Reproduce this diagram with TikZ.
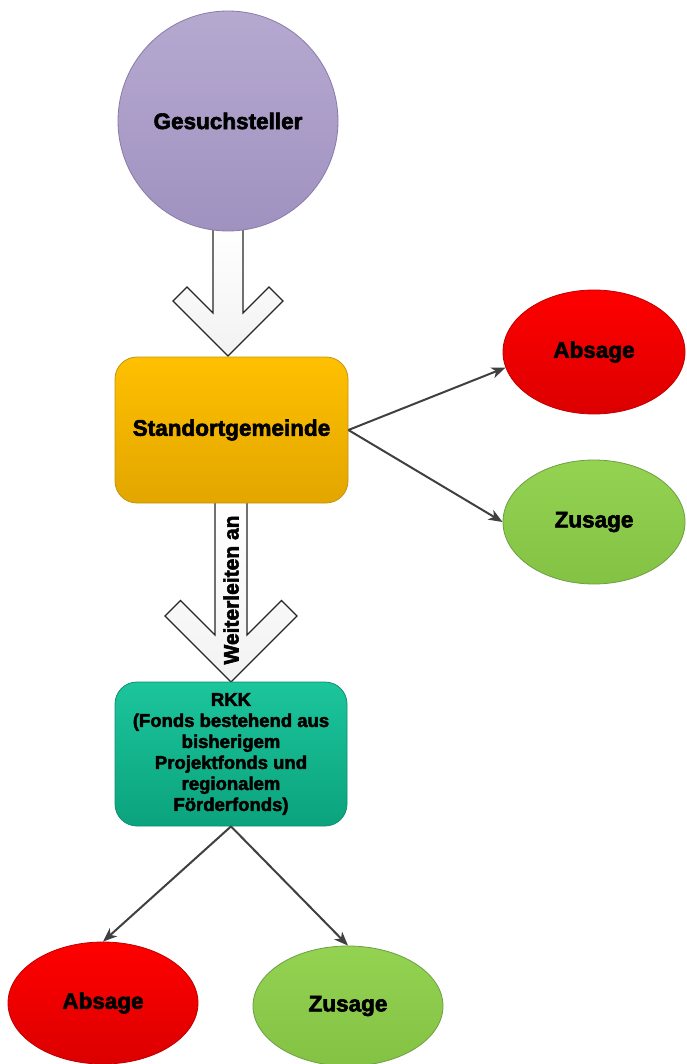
\documentclass[tikz,border=0pt]{standalone}
\usepackage{fontspec}
\newfontfamily\blk{Liberation Sans}[BoldFeatures={FakeBold=2.6}]
\usetikzlibrary{shapes.geometric,arrows.meta}
\definecolor{purpT}{HTML}{B6A9D0}
\definecolor{purpB}{HTML}{A092C0}
\definecolor{purpD}{HTML}{8A7BA8}
\definecolor{oraT}{HTML}{FFC000}
\definecolor{oraB}{HTML}{E2A600}
\definecolor{oraD}{HTML}{C49410}
\definecolor{tealT}{HTML}{1CC59C}
\definecolor{tealB}{HTML}{0BA37D}
\definecolor{tealD}{HTML}{0C8F6E}
\definecolor{redT}{HTML}{FF0000}
\definecolor{redB}{HTML}{DC0000}
\definecolor{redD}{HTML}{C00000}
\definecolor{grnT}{HTML}{94D252}
\definecolor{grnB}{HTML}{84C244}
\definecolor{grnD}{HTML}{6E9E44}
\definecolor{conn}{HTML}{404040}
\begin{document}
\begin{tikzpicture}[x=1pt,y=-1pt,
  lbl/.style={font=\blk\bfseries\fontsize{22.5}{26}\selectfont, text=black, align=center},
  small/.style={font=\blk\bfseries\fontsize{18.5}{21}\selectfont, text=black, align=center},
  boxshape/.style={rectangle, rounded corners=22pt, inner sep=0pt, line width=0.8pt},
  ell/.style={ellipse, inner sep=0pt, line width=0.8pt},
  bigarrow/.style={draw=black!85, line width=1.1pt, line join=miter, top color=white, bottom color=black!5},
  conline/.style={draw=conn, line width=2pt, -{Stealth[length=14pt,width=11pt,inset=4pt]}}
]
\useasboundingbox (0,0) rectangle (686,1064);
\fill[white] (0,0) rectangle (686,1064);

% big chevron arrows
\draw[bigarrow] (213,226) -- (243,226) -- (243,313) -- (269,287) -- (283,301) -- (228,356) -- (173,301) -- (187,287) -- (213,313) -- cycle;
\draw[bigarrow] (215,500) -- (247,500) -- (247,635) -- (281.5,600.5) -- (297,616) -- (231,682) -- (165,616) -- (180.5,600.5) -- (215,635) -- cycle;

% nodes
\node[circle, minimum size=220pt, inner sep=0pt, draw=purpD, line width=0.8pt, top color=purpT, bottom color=purpB, lbl] (ges) at (228,121) {Gesuchsteller};

\node[boxshape, minimum width=233pt, minimum height=146pt, draw=oraD, top color=oraT, bottom color=oraB, lbl] (std) at (231.5,430) {Standortgemeinde};

\node[boxshape, minimum width=232pt, minimum height=144pt, draw=tealD, top color=tealT, bottom color=tealB, small] (rkk) at (231,754)
  {RKK\\(Fonds bestehend aus\\bisherigem\\Projektfonds und\\regionalem\\Förderfonds)};

\node[ell, minimum width=182pt, minimum height=124pt, draw=redD, top color=redT, bottom color=redB, lbl] (abs1) at (594,352) {Absage};
\node[ell, minimum width=182pt, minimum height=124pt, draw=grnD, top color=grnT, bottom color=grnB, lbl] (zus1) at (594,522) {Zusage};
\node[ell, minimum width=190pt, minimum height=122pt, draw=redD, top color=redT, bottom color=redB, lbl] (abs2) at (103,1003) {Absage};
\node[ell, minimum width=190pt, minimum height=120pt, draw=grnD, top color=grnT, bottom color=grnB, lbl] (zus2) at (348,1006) {Zusage};

\node[rotate=90, font=\blk\bfseries\fontsize{21}{24}\selectfont] (wl) at (231,590) {Weiterleiten an};

% connectors
\draw[conline] (std.east) -- (abs1.190);
\draw[conline] (std.east) -- (zus1.west);
\draw[conline] (rkk.south) -- (abs2.north);
\draw[conline] (rkk.south) -- (zus2.north);
\end{tikzpicture}
\end{document}
